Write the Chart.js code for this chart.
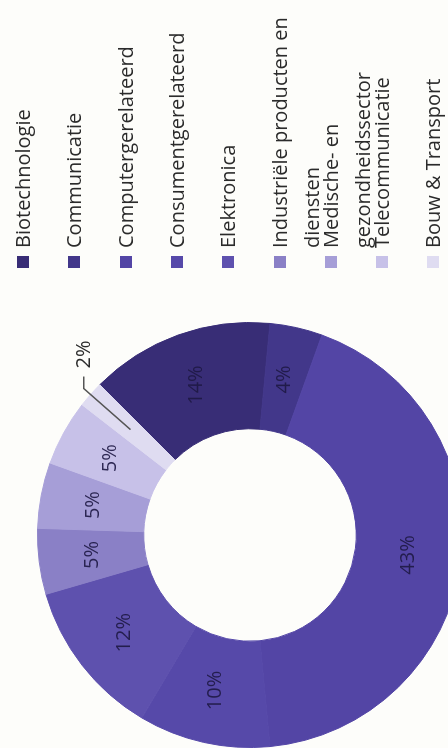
<!DOCTYPE html>
<html>
<head>
<meta charset="utf-8">
<script src="https://cdn.jsdelivr.net/npm/chart.js@4.4.1/dist/chart.umd.min.js"></script>
<style>
  html, body { margin: 0; padding: 0; background: #fdfdfa; }
  body { width: 448px; height: 748px; overflow: hidden; position: relative; }
  /* the chart is laid out 748x448 and turned a quarter to the left */
  #frame {
    position: absolute; left: 0; top: 0; width: 748px; height: 448px;
    overflow: hidden; transform-origin: 0 0;
    transform: translate(0, 748px) rotate(-90deg);
    font-family: "Open Sans", "Noto Sans", sans-serif; color: #2b2b2b;
  }
  #chartBox { position: absolute; left: 0; top: 0; width: 748px; height: 463px; }
  .item { position: absolute; left: 480px; }
  .box { position: absolute; left: 0; width: 12px; height: 12px; }
  .txt { position: absolute; left: 20px; width: 245px; font-size: 20px; line-height: 32px; white-space: normal; }
</style>
</head>
<body>
<div id="frame">
  <div id="chartBox"><canvas id="donutChart"></canvas></div>
  <div id="legend"></div>
</div>
<script>
// Data
const labels = ['Biotechnologie', 'Communicatie', 'Computergerelateerd', 'Consumentgerelateerd', 'Elektronica',
                'Industriële producten en diensten', 'Medische- en gezondheidssector', 'Telecommunicatie', 'Bouw & Transport'];
const values = [14, 4, 43, 10, 12, 5, 5, 5, 2];
const colors = ['#382d76', '#42378a', '#5345a5', '#5649a9', '#5e51ae', '#8a80c6', '#a69ed7', '#c7c1e8', '#dfdcf1'];

// Legend (html, rows from top)
const legendEl = document.getElementById('legend');
labels.forEach((name, i) => {
    const rowY = 23 + i * 51.3;
    const item = document.createElement('div');
    item.className = 'item';
    item.style.top = (rowY - 16) + 'px';
    item.innerHTML = '<span class="box" style="top:10px;background:' + colors[i] + '"></span>' +
                     '<span class="txt">' + name.replace('&', '&amp;') + '</span>';
    legendEl.appendChild(item);
});

// Percentage labels + callout for the small slice
const sliceLabels = {
    id: 'sliceLabels',
    afterDatasetsDraw(chart) {
        const ctx = chart.ctx;
        const meta = chart.getDatasetMeta(0);
        ctx.save();
        ctx.font = '20px "Open Sans"';
        ctx.textBaseline = 'middle';
        meta.data.forEach((arc, i) => {
            const text = values[i] + '%';
            if (i === values.length - 1) {
                const p = arc.getProps(['x', 'y', 'startAngle', 'endAngle', 'innerRadius', 'outerRadius'], true);
                const mid = (p.startAngle + p.endAngle) / 2;
                const r1 = (p.innerRadius + p.outerRadius) / 2;
                const r2 = p.outerRadius + 9;
                const x1 = p.x + Math.cos(mid) * r1, y1 = p.y + Math.sin(mid) * r1;
                const x2 = p.x + Math.cos(mid) * r2, y2 = p.y + Math.sin(mid) * r2;
                ctx.strokeStyle = '#555';
                ctx.lineWidth = 1.5;
                ctx.beginPath();
                ctx.moveTo(x1, y1);
                ctx.lineTo(x2, y2);
                ctx.lineTo(x2 + 12, y2);
                ctx.stroke();
                ctx.fillStyle = '#2b2b2b';
                ctx.textAlign = 'left';
                ctx.fillText(text, x2 + 20, y2);
            } else {
                const pos = arc.tooltipPosition(true);
                ctx.fillStyle = 'rgba(30, 24, 68, 0.9)';
                ctx.textAlign = 'center';
                ctx.fillText(text, pos.x, pos.y);
            }
        });
        ctx.restore();
    }
};

const donutCtx = document.getElementById('donutChart').getContext('2d');
const donutChart = new Chart(donutCtx, {
    type: 'doughnut',
    data: {
        labels: labels,
        datasets: [{
            data: values,
            backgroundColor: colors,
            borderColor: colors, // hides the hairline seams between slices
            borderWidth: 1,
            hoverOffset: 0,
            offset: 0
        }]
    },
    options: {
        responsive: true,
        maintainAspectRatio: false,
        animation: false,
        cutout: '50%',
        rotation: 45,
        layout: { padding: { left: 0, right: 322, top: 37, bottom: 0 } },
        plugins: {
            legend: { display: false },
            tooltip: { enabled: false }
        }
    },
    plugins: [sliceLabels]
});
</script>
</body>
</html>
